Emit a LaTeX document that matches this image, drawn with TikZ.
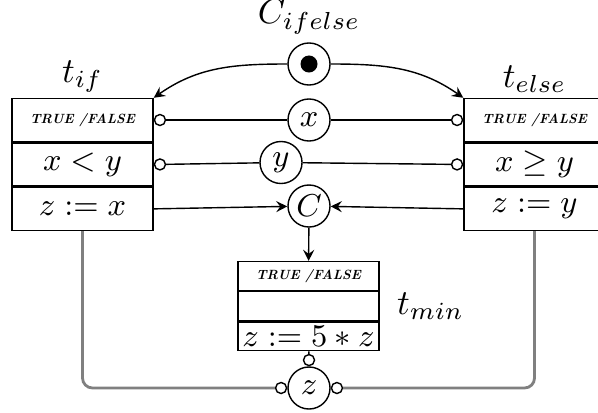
\documentclass[tikz,border=0pt]{standalone}
\usepackage{amsmath}
\usetikzlibrary{positioning,arrows}

\tikzset{
  row/.style={draw, minimum width=1.41cm, minimum height=0.43cm, inner sep=0pt,
    font=\fontsize{9}{10}\selectfont},
  minrow/.style={row, minimum height=0.287cm},
  place/.style={draw, circle, minimum size=0.42cm, inner sep=0pt,
    font=\fontsize{9}{10}\selectfont},
  port/.style={draw, circle, minimum size=0.11cm, inner sep=0pt, fill=white},
  flag/.style={font=\fontsize{3.8}{5}\selectfont\bfseries\itshape},
  wire/.style={gray, line width=0.8pt, rounded corners=0.1cm}
}

\begin{document}
\begin{tikzpicture}[x=0.01cm,y=-0.01cm,>=stealth]
\clip (0,0) rectangle (598,412);

% Transition t_if
\node[row, flag] (if1) at (82.5,120) {TRUE /FALSE};
\node[row, below=0pt of if1] (if2) {$x<y$};
\node[row, below=0pt of if2] (if3) {$z:=x$};
\node[above=-0.07cm of if1] {$t_{if}$};

% Transition t_else
\node[row, flag] (el1) at (534.5,120) {TRUE /FALSE};
\node[row, below=0pt of el1] (el2) {$x\geq y$};
\node[row, below=0pt of el2] (el3) {$z:=y$};
\node[above=-0.07cm of el1] {$t_{else}$};

% Transition t_min
\node[minrow, flag] (min1) at (308.5,276) {TRUE /FALSE};
\node[minrow, below=0pt of min1] (min2) {};
\node[minrow, below=0pt of min2] (min3) {$z:=5*z$};
\node[right=0.05cm of min2] {$t_{min}$};

% Places
\node[place] (cif) at (309,64) {};
\fill[black] (cif.center) circle (0.085cm);
\node[above=-0.04cm of cif] {$C_{ifelse}$};
\node[place] (cx) at (309,120) {$x$};
\node[place] (cy) at (281,162.5) {$y$};
\node[place] (cc) at (309,206) {$C$};
\node[place] (cz) at (309,388) {$z$};

% Inhibitor ports
\node[port, right=0pt of if1] (ifp1) {};
\node[port, right=0pt of if2] (ifp2) {};
\node[port, left=0pt of el1] (elp1) {};
\node[port, left=0pt of el2] (elp2) {};
\node[port, above=0pt of cz] (zt) {};
\node[port, left=0pt of cz] (zl) {};
\node[port, right=0pt of cz] (zr) {};

% Control arcs
\draw[->] (cif.west) to[out=180,in=35] (if1.north east);
\draw[->] (cif.east) to[out=0,in=145] (el1.north west);

% Guards
\draw (ifp1) -- (cx) -- (elp1);
\draw (ifp2) -- (cy);
\draw (cy) -- (elp2);

% Actions
\draw[->] (if3.east) -- (cc);
\draw[->] (el3.west) -- (cc);
\draw[->] (cc) -- (min1);
\draw (min3) -- (zt);

% Output wires
\draw[wire] (if3.south) |- (zl.west);
\draw[wire] (el3.south) |- (zr.east);
\end{tikzpicture}
\end{document}
